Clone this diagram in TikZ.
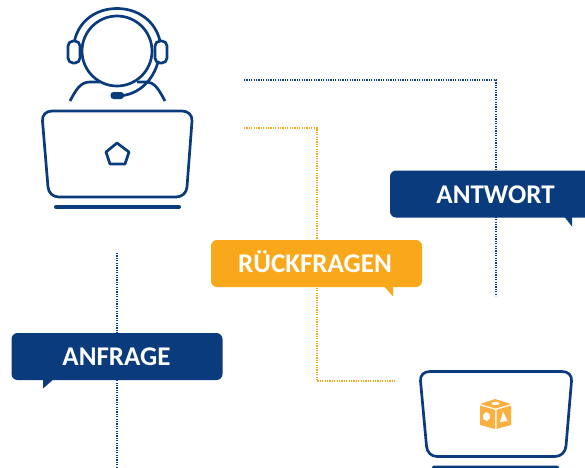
\documentclass[tikz,border=0pt]{standalone}
\usepackage{fontspec}
\setmainfont{Carlito}
\definecolor{navy}{HTML}{0A3B7C}
\definecolor{amber}{HTML}{F9A81B}
\definecolor{cubeor}{HTML}{FBB040}
\tikzset{
  iconline/.style={draw=navy,line width=2.7pt,line join=round,line cap=round},
  dotnavy/.style={draw=navy,line width=1.2pt,dash pattern=on 1.1pt off 1.3pt},
  dotamber/.style={draw=amber,line width=1.2pt,dash pattern=on 1.1pt off 1.3pt},
  bubble/.style={rounded corners=6pt,minimum width=#1,minimum height=47pt,inner sep=0pt},
  bubbletext/.style={text=white,font=\bfseries\fontsize{27}{27}\selectfont},
}
\begin{document}
\begin{tikzpicture}[x=1pt,y=-1pt]
\useasboundingbox (0,0) rectangle (585,467);
\clip (0,0) rectangle (585,467);
% connector ends
\coordinate (answerstart) at (244,80);
\coordinate (answercorner) at (496,80);
\coordinate (answerend) at (496,296);
\coordinate (askstart) at (244,128);
\coordinate (askcornerA) at (317,128);
\coordinate (askcornerB) at (317,381);
\coordinate (askend) at (396,381);
\coordinate (reqstart) at (117,253);
\coordinate (reqend) at (117,467);
\draw[dotnavy] (answerstart) -- (answercorner) -- (answerend);
\draw[dotamber] (askstart) -- (askcornerA) -- (askcornerB) -- (askend);
\draw[dotnavy] (reqstart) -- (reqend);
% agent head and headset
\draw[iconline] (117,51) circle[radius=35];
\draw[iconline] (74.5,41) .. controls (79,20) and (97,8.5) .. (117,8.5) .. controls (137,8.5) and (155,20) .. (160,41);
\draw[iconline,rounded corners=5pt] (68,41) rectangle (80,63);
\draw[iconline,rounded corners=5pt] (155,41) rectangle (167,63);
\draw[iconline] (158,62) .. controls (153,80) and (140,93) .. (123,95.5);
\fill[navy,rounded corners=3pt] (110.5,92) rectangle (124,99);
% shoulders
\draw[iconline,line cap=butt] (70,101) .. controls (76,90) and (80,82) .. (90,82) -- (100,82);
\draw[iconline,line cap=butt] (165,101) .. controls (159,90) and (155,82) .. (146,82) -- (137,82);
% agent laptop
\draw[iconline] (52,111) -- (182,111) .. controls (188,111) and (192.5,115) .. (192,121)
  -- (187,187) .. controls (186.5,193) and (182,197) .. (176,197)
  -- (59,197) .. controls (53,197) and (48.5,193) .. (48,187)
  -- (42.5,121) .. controls (42,115) and (46,111) .. (52,111) -- cycle;
\draw[navy,line width=4pt,line cap=round] (56,207) -- (179,207);
\draw[iconline] (117,143) -- (129,152) -- (125,164) -- (110,164) -- (106,152) -- cycle;
% customer laptop
\draw[iconline] (430,371.5) -- (562,371.5) .. controls (568,371.5) and (572,375) .. (571.5,381)
  -- (566,446) .. controls (565.5,452) and (561,456.5) .. (555,456.5)
  -- (437,456.5) .. controls (431,456.5) and (427,452) .. (426.5,446)
  -- (420.5,381) .. controls (420,375) and (424,371.5) .. (430,371.5) -- cycle;
\fill[navy,rounded corners=1.5pt] (432,465.5) rectangle (559,472);
% cube
\fill[cubeor] (495,399) -- (511,404) -- (495.5,408.5) -- (480,404) -- cycle;
\fill[cubeor] (480,405.5) -- (495,409.8) -- (495,429) -- (480,425) -- cycle;
\fill[cubeor] (511,405.5) -- (496.5,409.8) -- (496.5,429) -- (511,425) -- cycle;
\fill[white] (495.5,403.5) ellipse[x radius=4,y radius=1.6];
\fill[white] (486,412) -- (489.5,414) -- (490,418) -- (487,421) -- (483.5,419.5) -- (483,415) -- cycle;
\fill[white] (503,411.5) -- (507.5,421) -- (500,422) -- cycle;
% bubbles
\node[bubble=211pt,fill=navy] (antwort) at (495.5,194) {};
\fill[navy] (563,215) -- (572,226.5) -- (572,215) -- cycle;
\node[bubbletext] (antworttext) at (495.5,194.5) {ANTWORT};
\node[bubble=211pt,fill=amber] (rueck) at (316.5,263.5) {};
\fill[amber] (383,285) -- (393,296.5) -- (393,285) -- cycle;
\node[bubbletext] (ruecktext) at (315,261.5) {RÜCKFRAGEN};
\node[bubble=211pt,fill=navy] (anfrage) at (117,356.5) {};
\fill[navy] (43,378) -- (43,388.5) -- (55,378) -- cycle;
\node[bubbletext] (anfragetext) at (116.5,356.5) {ANFRAGE};
\end{tikzpicture}
\end{document}
